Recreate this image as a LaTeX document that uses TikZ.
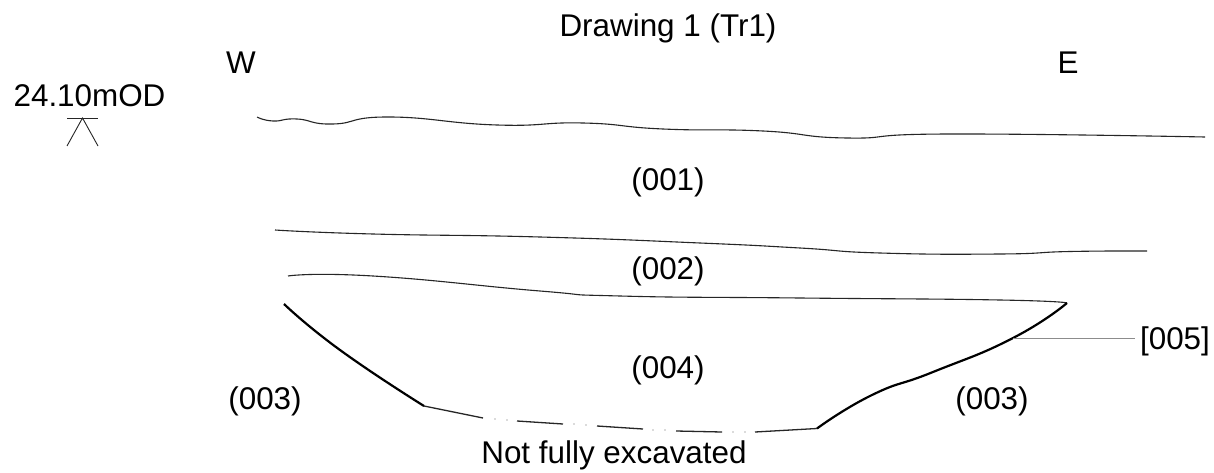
\documentclass[tikz,border=0pt]{standalone}
\usepackage{fontspec}
\setmainfont{Liberation Sans}
\tikzset{
  lbl/.style={inner sep=0pt,outer sep=0pt,font=\fontsize{31.4}{36}\selectfont,text=black,anchor=base},
  layer/.style={line width=1.1pt,black!85},
  cut/.style={line width=2.2pt,black,line join=round},
  base/.style={line width=1.3pt,black!85},
  leader/.style={line width=1pt,black!45},
  datum/.style={line width=0.9pt,black!85}
}
\begin{document}
\begin{tikzpicture}[x=1pt,y=-1pt]
\useasboundingbox (0,0) rectangle (1214,473);
\fill[white] (0,0) rectangle (1214,473);
\node[lbl] (title) at (668,37) {Drawing 1 (Tr1)};
\node[lbl] (w) at (241,74) {W};
\node[lbl] (e) at (1068,74) {E};
\node[lbl] (level) at (89.5,107) {24.10mOD};
\node[lbl] (l001) at (668,190) {(001)};
\node[lbl] (l002) at (668,279) {(002)};
\node[lbl] (l004) at (668,378) {(004)};
\node[lbl] (l003a) at (265,409) {(003)};
\node[lbl] (l003b) at (992,409) {(003)};
\node[lbl] (l005) at (1175,349) {[005]};
\node[lbl] (nfe) at (614,463) {Not fully excavated};
% datum symbol
\draw[datum] (67,118) -- (98,118);
\draw[datum] (67,146) -- (82.5,118) -- (98,146);
% layer boundaries
\draw[layer] plot[smooth,tension=0.9] coordinates {(257,117) (273,121) (297,119) (333,124) (390,117) (497,125) (583,123) (663,129) (763,131) (847,138) (950,134) (1205,137)};
\draw[layer] plot[smooth,tension=0.9] coordinates {(275,230) (373,234) (540,237) (700,243) (800,248) (880,253) (1000,254) (1070,251.5) (1147,251)};
\draw[layer] plot[smooth,tension=0.9] coordinates {(288,276) (373,276) (540,291) (620,296) (800,298) (1000,300) (1067,303)};
% cut
\draw[cut] plot[smooth,tension=0.9] coordinates {(284,304) (340,350) (424,406)};
\coordinate (cuttop) at (1067,303);
\coordinate (cutpt) at (1013,338);
\coordinate (leadend) at (1135,338);
\draw[cut] plot[smooth,tension=0.9] coordinates {(cuttop) (cutpt) (933,372) (872,395) (817,428.5)};
% base of cut
\draw[base] (424,406) -- (483,418);
\draw[base] (517,421) -- (563,424);
\draw[base] (597,426) -- (643,429);
\draw[base] (676,431) -- (722,432);
\draw[base] (755,432) -- (817,428.5);
\foreach \x/\y in {495/419,507/420,574/424,586/425,653/430,665/430,733/432,745/432}
  \fill[black!60] (\x,\y) circle (0.6);
% leader
\draw[leader] (cutpt) -- (leadend);
\end{tikzpicture}
\end{document}
